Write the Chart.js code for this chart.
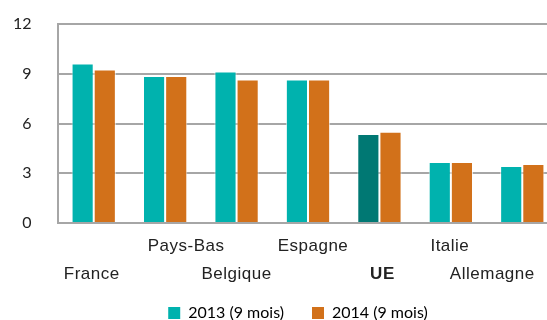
<!DOCTYPE html>
<html>
<head>
<meta charset="utf-8">
<script src="https://cdn.jsdelivr.net/npm/chart.js@4/dist/chart.umd.min.js"></script>
<style>
  html, body { margin: 0; padding: 0; background: #fff; overflow: hidden; }
  #wrap { width: 547px; height: 320px; overflow: hidden; }
</style>
</head>
<body>
<div id="wrap"><canvas id="myChart" width="585" height="331"></canvas></div>
<script>
// countries, drawn staggered on two rows below the axis
const categories = ['France', 'Pays-Bas', 'Belgique', 'Espagne', 'UE', 'Italie', 'Allemagne'];
const values2013 = [9.62, 8.87, 9.13, 8.65, 5.37, 3.68, 3.44];
const values2014 = [9.25, 8.87, 8.65, 8.65, 5.50, 3.68, 3.56];
const yTicks = [0, 3, 6, 9, 12];

const teal = '#00B2AE';
const tealDark = '#007873';
const orange = '#D2711A';

// small horizontal nudges so the long names don't collide / run off the edge
const labelNudge = [-2, 21, 0, 5, 3, -1, -30];

const staggeredLabels = {
    id: 'staggeredLabels',
    afterDraw(chart) {
        const x = chart.scales.x;
        const c = chart.ctx;
        c.save();
        c.fillStyle = '#222';
        c.textAlign = 'center';
        c.textBaseline = 'middle';
        c.letterSpacing = '0.5px';
        categories.forEach((name, i) => {
            c.font = (name === 'UE' ? 'bold ' : '') + '17px "Liberation Sans"';
            const y = x.top + (i % 2 === 0 ? 51 : 23);
            c.fillText(name, x.getPixelForTick(i) + labelNudge[i], y);
        });
        c.restore();
    }
};

const ctx = document.getElementById('myChart').getContext('2d');

const myChart = new Chart(ctx, {
    type: 'bar',
    data: {
        labels: categories,
        datasets: [{
            label: '2013 (9 mois)',
            data: values2013,
            backgroundColor: categories.map(c => c === 'UE' ? tealDark : teal),
            borderColor: 'rgba(255, 255, 255, 0.7)',
            borderWidth: 1,
            categoryPercentage: 0.62,
            barPercentage: 1
        }, {
            label: '2014 (9 mois)',
            data: values2014,
            backgroundColor: orange,
            borderColor: 'rgba(255, 255, 255, 0.7)',
            borderWidth: 1,
            categoryPercentage: 0.62,
            barPercentage: 1
        }]
    },
    options: {
        responsive: false,
        animation: false,
        layout: {
            padding: { left: 38, right: 27, top: 24, bottom: 0 }
        },
        plugins: {
            legend: {
                display: true,
                position: 'bottom',
                labels: {
                    boxWidth: 12,
                    boxHeight: 12,
                    padding: 28,
                    color: '#222',
                    font: { family: 'Lato', size: 16 },
                    generateLabels: chart => chart.data.datasets.map((ds, i) => ({
                        text: ds.label,
                        fillStyle: i === 0 ? teal : orange,
                        strokeStyle: i === 0 ? teal : orange,
                        lineWidth: 0,
                        datasetIndex: i
                    }))
                }
            },
            tooltip: { enabled: false }
        },
        scales: {
            x: {
                grid: { display: false, drawTicks: false },
                border: { display: false },
                ticks: { display: false },
                afterFit: axis => { axis.height = 54; }
            },
            y: {
                min: 0,
                max: 12,
                afterBuildTicks: axis => { axis.ticks = yTicks.map(v => ({ value: v })); },
                afterFit: axis => { axis.width = 20; },
                grid: { color: '#A6A6A6', lineWidth: 2, drawTicks: false },
                border: { color: '#A6A6A6', width: 2 },
                ticks: {
                    color: '#222',
                    mirror: true,
                    crossAlign: 'far',
                    padding: -45,
                    font: { family: 'Lato', size: 16 }
                }
            }
        }
    },
    plugins: [staggeredLabels]
});
</script>
</body>
</html>
